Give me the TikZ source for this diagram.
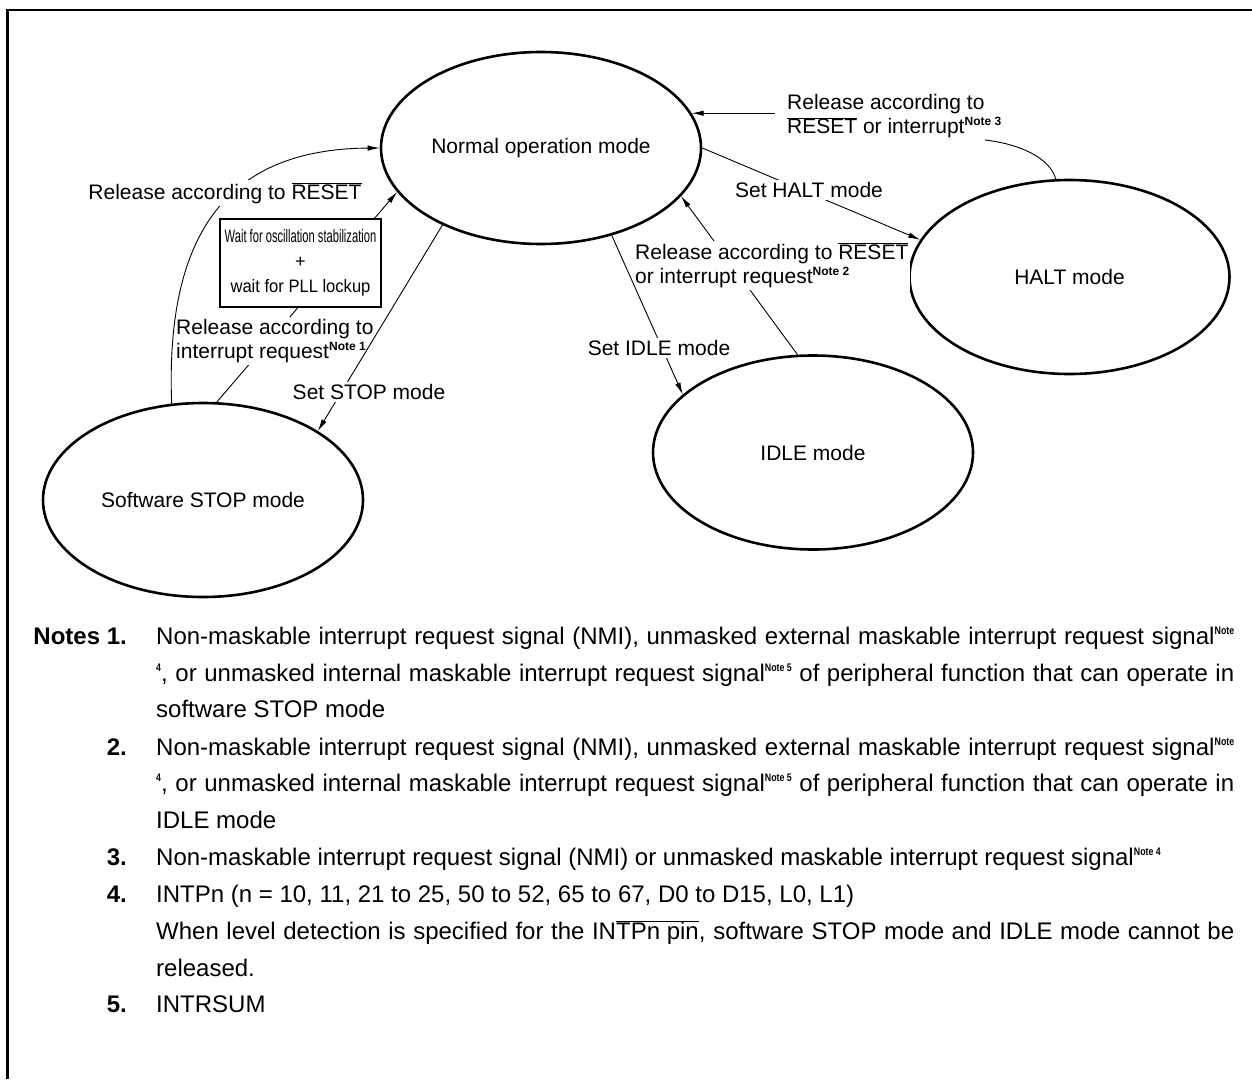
\documentclass[tikz,border=0pt]{standalone}
\usepackage{fontspec}
\setmainfont{Liberation Sans}
\usetikzlibrary{arrows.meta,shapes.geometric,calc}
\newcommand\lblfont{\fontsize{21}{24}\selectfont}
\newcommand\ntfont{\fontsize{24}{29}\selectfont}
\newcommand\ovl[1]{$\overline{\hbox{#1}}$}
\newcommand\dnote[1]{\raisebox{8pt}{\fontsize{12}{12}\selectfont\bfseries Note~#1}}
\newcommand\nsup[1]{\raisebox{10pt}{\scalebox{0.8}[1]{\fontsize{11}{11}\selectfont\bfseries #1}}}
\newcommand\jline[1]{\makebox[1078pt][s]{#1}}
\begin{document}
\begin{tikzpicture}[x=1pt,y=-1pt,
  state/.style={ellipse,draw,line width=2.6pt,minimum width=320pt,minimum height=194pt,inner sep=0pt,font=\lblfont},
  lab/.style={fill=white,inner sep=2pt,font=\lblfont,align=left},
  conn/.style={line width=0.9pt},
  arr/.style={conn,-{Latex[length=12pt,width=5.5pt]}},
  ntxt/.style={anchor=base west,inner sep=0pt,font=\ntfont},
  nnum/.style={anchor=base east,inner sep=0pt,font=\ntfont\bfseries}]
\useasboundingbox (0,0) rectangle (1252,1079);
\draw[line width=2.5pt] (7.5,1079) -- (7.5,10) -- (1252,10);

% states
\node[state,minimum height=192pt] (normal) at (541,148) {Normal operation mode};
\node[state] (halt) at (1069.5,277) {HALT mode};
\node[state] (idle) at (813,452.5) {IDLE mode};
\node[state] (stop) at (203,500) {Software STOP mode};

% STOP -> Normal by interrupt (through box)
\draw[arr] (stop.82) -- (normal.197.5);
\node[lab,anchor=west,inner xsep=1pt] (relint) at (175,341) {Release according to\\interrupt request\dnote{1}};
\node[draw,fill=white,line width=2.5pt,minimum width=161pt,minimum height=88pt,inner sep=0pt,align=center,font=\fontsize{18}{25}\selectfont] (wait) at (300.5,263)
  {\scalebox{0.62}[1]{Wait for oscillation stabilization}\\+\\\scalebox{0.92}[1]{wait for PLL lockup}};

% STOP -> Normal by RESET
\draw[arr] (stop.108) .. controls (165,230) and (230,149) .. (normal.west);
\node[lab] (relreset) at (225,193) {Release according to \ovl{RESET}};

% Normal -> STOP
\draw[arr] (normal.218) -- (stop.31);
\node[lab] (setstop) at (369,392) {Set STOP mode};

% Normal -> HALT
\draw[arr] (normal.east) -- (halt.166);
\node[lab] (sethalt) at (809,190) {Set HALT mode};

% IDLE -> Normal
\draw[arr] (idle.99) -- (normal.-19.5);
\node[lab,anchor=west] (relidle) at (633,265.5) {Release according to \ovl{RESET}\\or interrupt request\dnote{2}};

% Normal -> IDLE
\draw[arr] (normal.309.5) -- (idle.156);
\node[lab] (setidle) at (659,348) {Set IDLE mode};

% HALT -> Normal
\node[lab,anchor=west] (relhalt) at (785,116.5) {Release according to\\\ovl{RESET} or interrupt\dnote{3}};
\coordinate (h3) at (985,140);
\draw[conn] (halt.98) .. controls (1050,158) and (1020,144) .. (h3);
\path (relhalt.west) ++(-10,0) coordinate (h3w);
\draw[arr] (h3w |- normal.13) -- (normal.13);

% notes
\node[nnum] (n1) at (127,644.5) {Notes 1.};
\node[ntxt] (t1a) at (156,644.5) {\jline{Non-maskable interrupt request signal (NMI), unmasked external maskable interrupt request signal\nsup{Note}}};
\node[ntxt] (t1b) at (156,681.5) {\jline{\nsup{4}, or unmasked internal maskable interrupt request signal\nsup{Note 5} of peripheral function that can operate in}};
\node[ntxt] (t1c) at (156,717.5) {software STOP mode};
\node[nnum] (n2) at (127,755.5) {2.};
\node[ntxt] (t2a) at (156,755.5) {\jline{Non-maskable interrupt request signal (NMI), unmasked external maskable interrupt request signal\nsup{Note}}};
\node[ntxt] (t2b) at (156,791.5) {\jline{\nsup{4}, or unmasked internal maskable interrupt request signal\nsup{Note 5} of peripheral function that can operate in}};
\node[ntxt] (t2c) at (156,828.5) {IDLE mode};
\node[nnum] (n3) at (127,865.5) {3.};
\node[ntxt] (t3a) at (156,865.5) {Non-maskable interrupt request signal (NMI) or unmasked maskable interrupt request signal\nsup{Note 4}};
\node[nnum] (n4) at (127,902.5) {4.};
\node[ntxt] (t4a) at (156,902.5) {INTPn (n = 10, 11, 21 to 25, 50 to 52, 65 to 67, D0 to D15, L0, L1)};
\node[ntxt] (t4b) at (156,939.5) {\jline{When level detection is specified for the IN\ovl{TPn pin}, software STOP mode and IDLE mode cannot be}};
\node[ntxt] (t4c) at (156,976.5) {released.};
\node[nnum] (n5) at (127,1012.5) {5.};
\node[ntxt] (t5a) at (156,1012.5) {INTRSUM};
\end{tikzpicture}
\end{document}
